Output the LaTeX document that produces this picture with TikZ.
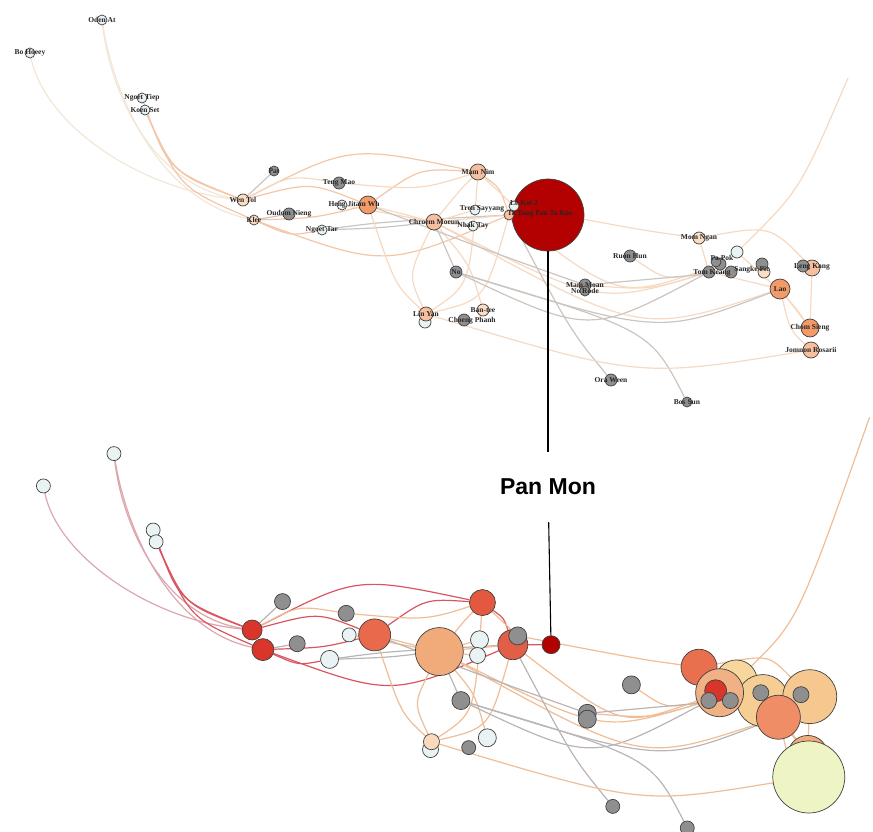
\documentclass[tikz,border=0pt]{standalone}
\usepackage{fontspec}
\newfontfamily\lblfont{Liberation Serif}
\newfontfamily\pmfont{Liberation Sans}
\pgfdeclarelayer{bg}
\pgfsetlayers{bg,main}
\definecolor{wht}{HTML}{EAF3F3}
\definecolor{gry}{HTML}{8F8F8F}
\definecolor{ppch}{HTML}{FBDDC3}
\definecolor{red1}{HTML}{D9352A}
\definecolor{orgT}{HTML}{F29A68}
\definecolor{orgB}{HTML}{E8694C}
\definecolor{pchT}{HTML}{F8BF9E}
\definecolor{redor}{HTML}{E3583E}
\definecolor{pchB}{HTML}{F1AA7A}
\definecolor{dred}{HTML}{B30000}
\definecolor{orgC}{HTML}{E25E47}
\definecolor{ppchB}{HTML}{FBD9BC}
\definecolor{momB}{HTML}{E9704F}
\definecolor{paley}{HTML}{F8D79C}
\definecolor{paleyy}{HTML}{F6CE94}
\definecolor{lkB}{HTML}{F6C890}
\definecolor{ctwoB}{HTML}{F0B184}
\definecolor{laoB}{HTML}{EE8D66}
\definecolor{paleg}{HTML}{EEF4C4}
\definecolor{terT}{HTML}{F3C6A8}
\definecolor{tepT}{HTML}{F6D9C0}
\definecolor{tegT}{HTML}{CBC5C2}
\definecolor{tefT}{HTML}{F2E6D6}
\definecolor{terB}{HTML}{D9555F}
\definecolor{tepB}{HTML}{EFBD96}
\definecolor{tegB}{HTML}{BAB4B4}
\definecolor{tefB}{HTML}{DCA6AD}
\tikzset{
  vtx/.style={circle, draw=black!75, line width=0.7pt, inner sep=0pt},
  lbl/.style={font=\lblfont\bfseries\fontsize{7.5}{8}\selectfont, inner sep=0pt, text=black!85},
  edge/.style={line width=1.2pt},
  pmlabel/.style={font=\pmfont\bfseries\fontsize{23}{26}\selectfont, minimum height=70pt, inner sep=0pt},
}
\newif\iftoppart
\newcommand\mkv[8]{%
  \iftoppart
    \node[vtx, minimum size={2*#5pt}, fill=#6, label={[lbl]center:#4}] (#1) at (#2,#3) {};
  \else
    \node[vtx, minimum size={2*#7pt}, fill=#8] (#1) at (#2,#3) {};
  \fi}
\newcommand\mknodes{%
  \mkv{bo}{30}{53}{Bo Hoeey}{5}{wht}{7}{wht}
  \mkv{oden}{102}{20}{Oden At}{5}{wht}{7}{wht}
  \mkv{ngt}{142}{98}{Ngoet Tiep}{5}{wht}{7}{wht}
  \mkv{koen}{145}{110}{Koen Set}{5}{wht}{7}{wht}
  \mkv{pat}{274}{171}{Pat}{5}{gry}{8}{gry}
  \mkv{wen}{243}{200}{Wen Tol}{6}{ppch}{10}{red1}
  \mkv{klee}{254}{220}{Klee}{5}{ppch}{11}{red1}
  \mkv{oudom}{289}{214}{Oudom Nieng}{6}{gry}{8}{gry}
  \mkv{teng}{339}{183}{Teng Mao}{6}{gry}{8}{gry}
  \mkv{heng}{342}{205}{}{5}{wht}{7}{wht}
  \mkv{hengwh}{368}{205}{}{9}{orgT}{16}{orgB}
  \mkv{ngtar}{322}{230}{Ngoet Tar}{5}{wht}{9}{wht}
  \mkv{mam}{478}{172}{Mam Nim}{8}{pchT}{13}{redor}
  \mkv{chroem}{434}{222}{Chroem Moeun}{8}{pchT}{24}{pchB}
  \mkv{tren}{475}{210}{}{5}{wht}{9}{wht}
  \mkv{nhak}{473}{226}{Nhak Tay}{5}{wht}{8}{wht}
  \mkv{panmon}{548}{215}{}{36}{dred}{9}{dred}
  \mkv{tatoug}{509}{215}{}{5}{pchT}{15}{orgC}
  \mkv{lekot}{514}{206}{}{5}{wht}{9}{gry}
  \mkv{no}{456}{272}{No}{6}{gry}{9}{gry}
  \mkv{lytwo}{425}{322}{}{6}{wht}{8}{wht}
  \mkv{linyan}{426}{314}{Lin Yan}{7}{pchT}{8}{ppchB}
  \mkv{choeng}{464}{320}{}{6}{gry}{7}{gry}
  \mkv{bantee}{483}{310}{Ban-tee}{6}{ppch}{9}{wht}
  \mkv{ruon}{630}{256}{Ruon Hun}{6}{gry}{9}{gry}
  \mkv{mammoan}{585}{285}{Mam Moan}{6}{gry}{9}{gry}
  \mkv{mmtwo}{585}{291}{No Rode}{5}{gry}{9}{gry}
  \mkv{ora}{611}{380}{Ora Ween}{6}{gry}{7}{gry}
  \mkv{bos}{687}{402}{Bos Sun}{5}{gry}{7}{gry}
  \mkv{momngan}{699}{238}{Mom Ngan}{6}{ppch}{18}{momB}
  \mkv{cthree}{737}{252}{}{6}{wht}{21}{paley}
  \mkv{csix}{764}{272}{}{6}{ppch}{26}{paleyy}
  \mkv{lengkang}{812}{268}{}{8}{pchT}{27}{lkB}
  \mkv{lkg}{803}{266}{}{6}{gry}{8}{gry}
  \mkv{ctwo}{720}{264}{}{6}{gry}{24}{ctwoB}
  \mkv{ctwob}{716}{262}{}{5}{gry}{11}{red1}
  \mkv{cone}{709}{272}{}{6}{gry}{8}{gry}
  \mkv{cfour}{731}{272}{}{6}{gry}{8}{gry}
  \mkv{cfive}{762}{264}{}{6}{gry}{8}{gry}
  \mkv{lao}{780}{289}{Lao}{10}{orgT}{22}{laoB}
  \mkv{chom}{810}{328}{Chom Sieng}{9}{orgT}{20}{pchB}
  \mkv{jomnon}{811}{350}{Jomnon Rosarii}{8}{pchT}{36}{paleg}
}
\newcommand\mkedges{%
  \draw[ef] (bo) .. controls (45,125) and (140,190) .. (wen);
  \draw[ef] (oden) .. controls (110,90) and (150,185) .. (wen);
  \draw[er] (ngt) .. controls (168,170) .. (wen);
  \draw[er] (koen) .. controls (174,174) .. (wen);
  \draw[er] (koen) .. controls (180,188) .. (klee);
  \draw[ef] (oden) .. controls (115,100) and (160,200) .. (klee);
  \draw[eg] (pat) -- (wen);
  \draw[er] (wen) .. controls (350,145) .. (mam);
  \draw[er] (klee) .. controls (385,268) .. (tatoug);
  \draw[er] (wen) .. controls (310,182) .. (hengwh);
  \draw[er] (klee) .. controls (315,218) .. (hengwh);
  \draw[eg] (klee) -- (oudom);
  \draw[ep] (wen) .. controls (290,175) .. (teng);
  \draw[er] (klee) .. controls (290,236) .. (ngtar);
  \draw[eg] (ngtar) .. controls (380,228) .. (chroem);
  \draw[eg] (ngtar) .. controls (380,222) .. (tatoug);
  \draw[ep] (heng) -- (chroem);
  \draw[er] (hengwh) .. controls (420,168) .. (mam);
  \draw[ep] (hengwh) -- (chroem);
  \draw[ep] (teng) .. controls (420,190) .. (mam);
  \draw[ep] (chroem) .. controls (460,190) .. (mam);
  \draw[ep] (chroem) -- (tatoug);
  \draw[er] (mam) .. controls (500,188) .. (tatoug);
  \draw[er] (tatoug) -- (panmon);
  \draw[ep] (mam) -- (lekot);
  \draw[ep] (tren) -- (chroem);
  \draw[ep] (nhak) -- (chroem);
  \draw[ep] (chroem) .. controls (408,275) .. (linyan);
  \draw[ep] (mam) .. controls (470,285) .. (linyan);
  \draw[ep] (tatoug) .. controls (485,300) .. (linyan);
  \draw[ep] (hengwh) .. controls (395,285) .. (linyan);
  \draw[ep] (bantee) .. controls (470,265) .. (chroem);
  \draw[eg] (chroem) -- (no);
  \draw[eg] (no) .. controls (590,335) .. (cone);
  \draw[ep] (chroem) .. controls (600,305) .. (cone);
  \draw[ep] (chroem) .. controls (640,335) .. (lao);
  \draw[eg] (hengwh) .. controls (500,255) .. (mammoan);
  \draw[ep] (mammoan) .. controls (650,290) .. (cone);
  \draw[ep] (ruon) .. controls (665,280) .. (cone);
  \draw[eg] (ora) .. controls (570,330) .. (tatoug);
  \draw[eg] (bos) .. controls (650,330) .. (no);
  \draw[ep] (linyan) .. controls (640,378) .. (jomnon);
  \draw[ep] (tatoug) .. controls (620,300) .. (ctwo);
  \draw[eg] (no) .. controls (660,335) .. (lao);
  \draw[ep] (momngan) .. controls (770,225) .. (lengkang);
  \draw[ep] (cone) -- (lao);
  \draw[ep] (lao) -- (chom);
  \draw[ep] (lao) .. controls (790,330) .. (jomnon);
  \draw[ep] (cthree) .. controls (790,300) .. (chom);
  \draw[ep] (lengkang) -- (chom);
  \draw[ep] (ft) .. controls (800,190) .. (cthree);
  \draw[ep] (cone) -- (momngan);
  \draw[ep] (lekot) .. controls (640,230) .. (momngan);
  \draw[eg] (mammoan) -- (cfour);
}
\begin{document}
\begin{tikzpicture}[x=1pt, y=-1pt]
\useasboundingbox (0,0) rectangle (873,832);
% ---------- top panel ----------
\begin{scope}[name prefix=t-,
  er/.style={edge, draw=terT}, ep/.style={edge, draw=tepT},
  eg/.style={edge, draw=tegT}, ef/.style={edge, draw=tefT}]
  \topparttrue
  \mknodes
  \coordinate (ft) at (848,78);
  \begin{pgfonlayer}{bg}\mkedges\end{pgfonlayer}
  \node[lbl] (lheng) at (354,205) {Heng Jitam Wh};
  \node[lbl] (ltren) at (482,209) {Tren Sayyang};
  \node[lbl] (llekot) at (524,203) {Le Kot 2};
  \node[lbl] (ltat) at (540,214) {Ta Toug Pan Ta Koe};
  \node[lbl] (lchoeng) at (472,321) {Choeng Phanh};
  \node[lbl] (lpa) at (722,258) {Pa Pok};
  \node[lbl] (ltom) at (712,273) {Tom Keang};
  \node[lbl] (lsan) at (752,270) {Sangke Pic};
  \node[lbl] (lleng) at (812,267) {Leng Kang};
\end{scope}
% ---------- bottom panel ----------
\begin{scope}[shift={(14,434)}, scale=0.98, name prefix=b-,
  er/.style={edge, draw=terB}, ep/.style={edge, draw=tepB},
  eg/.style={edge, draw=tegB}, ef/.style={edge, draw=tefB}]
  \toppartfalse
  \mknodes
  \coordinate (ft) at (873,-17);
  \begin{pgfonlayer}{bg}\mkedges\end{pgfonlayer}
\end{scope}
% ---------- callout ----------
\node[pmlabel] (pm) at (548,487) {Pan Mon};
\draw[line width=1.1pt] (t-panmon) -- (pm);
\draw[line width=1.1pt] (pm) -- (b-panmon);
\end{tikzpicture}
\end{document}
